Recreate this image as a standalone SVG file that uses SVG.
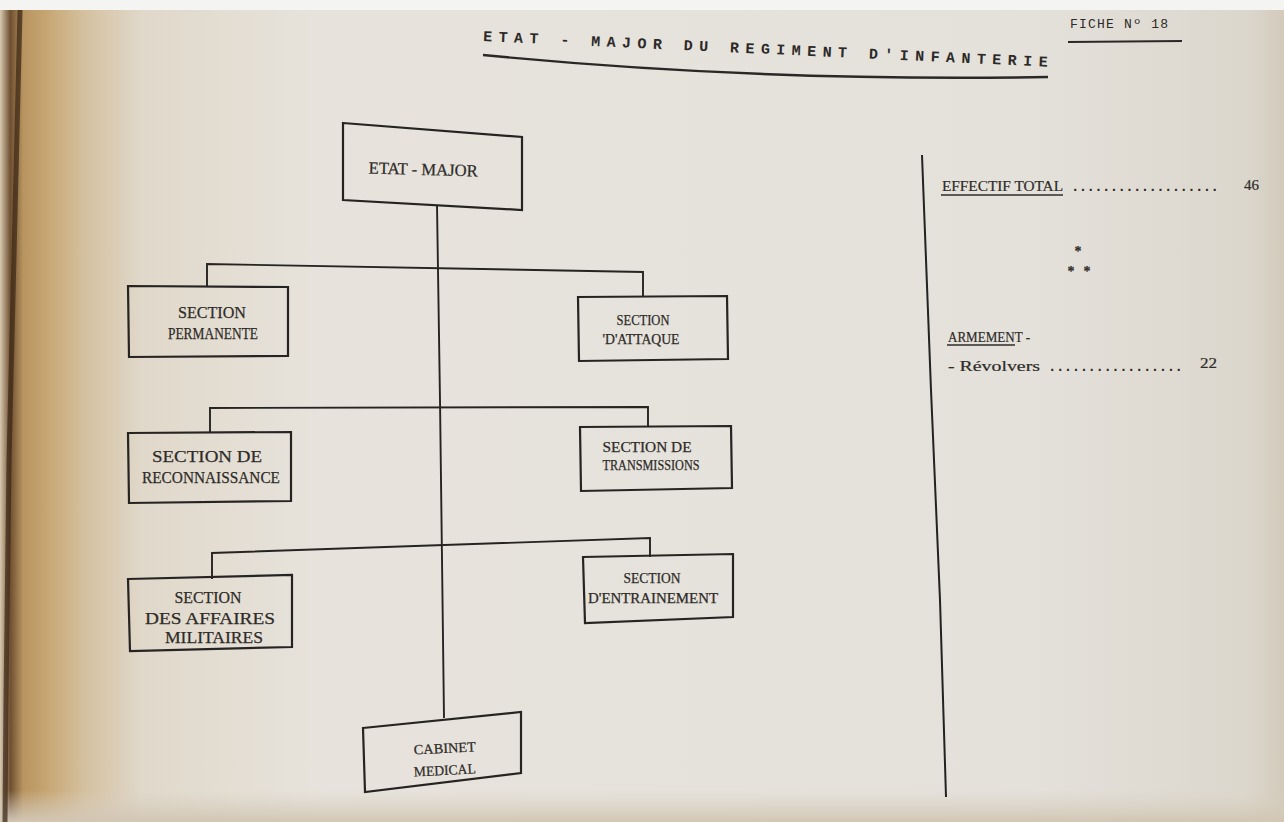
<svg xmlns="http://www.w3.org/2000/svg" width="1284" height="822" viewBox="0 0 1284 822">
<defs>
<linearGradient id="paper" gradientUnits="userSpaceOnUse" x1="0" y1="0" x2="1284" y2="0">
<stop offset="0" stop-color="#d8c9b0"/>
<stop offset="0.008" stop-color="#6e4f30"/>
<stop offset="0.018" stop-color="#b8945f"/>
<stop offset="0.04" stop-color="#c9a978"/>
<stop offset="0.065" stop-color="#d4c09e"/>
<stop offset="0.11" stop-color="#e0d8ca"/>
<stop offset="0.25" stop-color="#e7e3dc"/>
<stop offset="0.8" stop-color="#e4e1db"/>
<stop offset="0.97" stop-color="#dcd7cd"/>
<stop offset="1" stop-color="#d3cabb"/>
</linearGradient>
<linearGradient id="bottom" x1="0" y1="0" x2="0" y2="1">
<stop offset="0" stop-color="#d8cfc2" stop-opacity="0"/>
<stop offset="1" stop-color="#d2c6b4" stop-opacity="1"/>
</linearGradient>
</defs>
<style>
.box{fill:none;stroke:#262422;stroke-width:2.2;stroke-linejoin:miter}
.conn{fill:none;stroke:#262422;stroke-width:1.9}
.t{font-family:"Liberation Serif","DejaVu Serif",serif;font-size:17px;fill:#2e2b28;stroke:#2e2b28;stroke-width:0.25;text-anchor:middle}
.ts{font-size:14px}
.s{font-family:"Liberation Serif","DejaVu Serif",serif;font-size:14px;fill:#2e2b28;stroke:#2e2b28;stroke-width:0.2}
.m{font-family:"Liberation Mono","DejaVu Sans Mono",monospace;fill:#2c2a28}
.dots{font-family:"Liberation Mono","DejaVu Sans Mono",monospace;font-size:14px;font-weight:bold;fill:#2e2b28}
.ul{stroke:#2e2b28;stroke-width:1.4}
</style>

<!-- paper background -->
<rect x="0" y="0" width="1284" height="822" fill="url(#paper)"/>
<rect x="0" y="790" width="1284" height="32" fill="url(#bottom)"/>
<rect x="0" y="0" width="1284" height="10" fill="#f4f4f3"/>
<path d="M20,10 C18,150 14,300 9,460 C7,560 6,700 5,822" fill="none" stroke="#3e2a18" stroke-width="5" opacity="0.75"/>

<!-- header -->
<g id="title">
<text class="m" x="483" y="41" font-size="15" font-weight="bold" textLength="565" lengthAdjust="spacing" transform="rotate(2.6 483 41)">ETAT - MAJOR DU REGIMENT D'INFANTERIE</text>
<path d="M483,55 Q760,82 1048,77" fill="none" stroke="#2a2826" stroke-width="2.4"/>
</g>
<g id="fiche">
<text class="m" x="1070" y="28" font-size="13" textLength="98" lengthAdjust="spacing">FICHE Nº 18</text>
<line x1="1068" y1="42" x2="1182" y2="41" stroke="#2a2826" stroke-width="2.2"/>
</g>

<!-- connectors -->
<g id="connectors">
<path class="conn" d="M437,205 L440,400 L444,718"/>
<path class="conn" d="M207,286 L207,264 L643,272 L643,297"/>
<path class="conn" d="M210,433 L210,408 L648,407 L648,427"/>
<path class="conn" d="M212,579 L212,553 L650,538 L650,557"/>
</g>

<!-- nodes -->
<g id="etat-major">
<polygon class="box" points="343,123 522,137 522,210 343,200"/>
<text class="t" x="423" y="175" textLength="109" lengthAdjust="spacingAndGlyphs" transform="rotate(1.5 423 175)">ETAT - MAJOR</text>
</g>
<g id="section-permanente">
<polygon class="box" points="128,286 288,287 288,356 129,357"/>
<text class="t" x="212" y="318" textLength="68" lengthAdjust="spacingAndGlyphs">SECTION</text>
<text class="t" x="213" y="339" textLength="90" lengthAdjust="spacingAndGlyphs">PERMANENTE</text>
</g>
<g id="section-attaque">
<polygon class="box" points="578,297 727,296 728,359 579,361"/>
<text class="t ts" x="643" y="325" textLength="53" lengthAdjust="spacingAndGlyphs">SECTION</text>
<text class="t ts" x="641" y="344" textLength="77" lengthAdjust="spacingAndGlyphs">'D'ATTAQUE</text>
</g>
<g id="section-reconnaissance">
<polygon class="box" points="128,433 291,432 291,501 129,503"/>
<text class="t" x="207" y="462" textLength="110" lengthAdjust="spacingAndGlyphs">SECTION  DE</text>
<text class="t" x="211" y="483" textLength="138" lengthAdjust="spacingAndGlyphs">RECONNAISSANCE</text>
</g>
<g id="section-transmissions">
<polygon class="box" points="580,427 731,426 732,488 581,491"/>
<text class="t ts" x="647" y="452" textLength="89" lengthAdjust="spacingAndGlyphs">SECTION  DE</text>
<text class="t ts" x="651" y="470" textLength="97" lengthAdjust="spacingAndGlyphs">TRANSMISSIONS</text>
</g>
<g id="section-affaires-militaires">
<polygon class="box" points="128,579 292,575 292,647 130,651"/>
<text class="t" x="208" y="603" textLength="67" lengthAdjust="spacingAndGlyphs">SECTION</text>
<text class="t" x="210" y="624" textLength="130" lengthAdjust="spacingAndGlyphs">DES  AFFAIRES</text>
<text class="t" x="214" y="643" textLength="98" lengthAdjust="spacingAndGlyphs">MILITAIRES</text>
</g>
<g id="section-entrainement">
<polygon class="box" points="583,557 733,554 733,617 585,623"/>
<text class="t ts" x="652" y="583" textLength="57" lengthAdjust="spacingAndGlyphs">SECTION</text>
<text class="t ts" x="653" y="603" textLength="130" lengthAdjust="spacingAndGlyphs">D'ENTRAINEMENT</text>
</g>
<g id="cabinet-medical">
<polygon class="box" points="363,728 521,712 521,773 365,792"/>
<text class="t ts" x="445" y="753" textLength="62" lengthAdjust="spacingAndGlyphs" transform="rotate(-3 445 753)">CABINET</text>
<text class="t ts" x="445" y="775" textLength="62" lengthAdjust="spacingAndGlyphs" transform="rotate(-3 445 775)">MEDICAL</text>
</g>

<!-- right panel -->
<g id="divider">
<path d="M922,155 L931,390 L940,600 L946,797" fill="none" stroke="#222" stroke-width="2"/>
</g>
<g id="effectif">
<text class="s" x="942" y="191" textLength="121" lengthAdjust="spacingAndGlyphs">EFFECTIF  TOTAL</text>
<line class="ul" x1="941" y1="195" x2="1063" y2="195"/>
<text class="dots" x="1071" y="191" textLength="148" lengthAdjust="spacing">...................</text>
<text class="s" x="1244" y="190" font-size="15" textLength="15" lengthAdjust="spacingAndGlyphs">46</text>
</g>
<g id="asterisks">
<text class="s" x="1078" y="256" text-anchor="middle" font-size="16" font-weight="bold">*</text>
<text class="s" x="1071" y="276" text-anchor="middle" font-size="16" font-weight="bold">*</text>
<text class="s" x="1087" y="276" text-anchor="middle" font-size="16" font-weight="bold">*</text>
</g>
<g id="armement">
<text class="s" x="948" y="342" font-size="15" textLength="82" lengthAdjust="spacingAndGlyphs">ARMEMENT  -</text>
<line class="ul" x1="947" y1="345" x2="1015" y2="345"/>
<text class="s" x="948" y="371" textLength="92" lengthAdjust="spacingAndGlyphs">- Révolvers</text>
<text class="dots" x="1048" y="371" textLength="135" lengthAdjust="spacing">.................</text>
<text class="s" x="1200" y="368" font-size="15" textLength="17" lengthAdjust="spacingAndGlyphs">22</text>
</g>
</svg>
